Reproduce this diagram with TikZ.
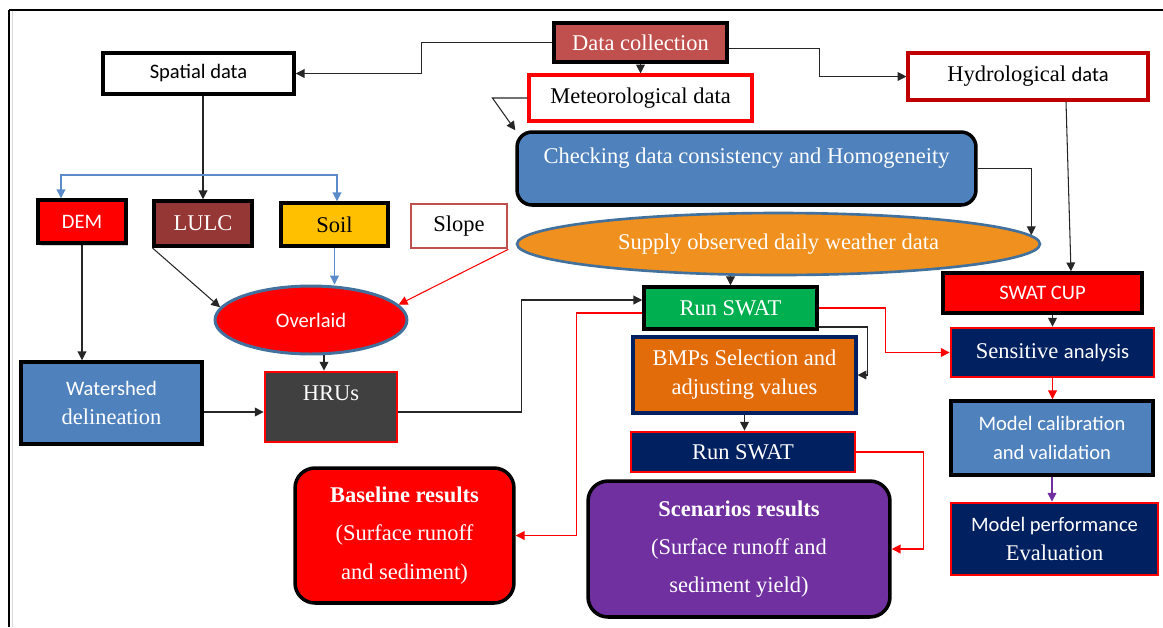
\documentclass[tikz,border=0pt]{standalone}
\usepackage{fontspec}
\setmainfont{Liberation Serif}
\newfontfamily\calibri{Carlito}
\usepackage{xcolor}
\usepackage{tikz}
\usetikzlibrary{arrows.meta,shapes.geometric,shadows}

\definecolor{brick}{HTML}{C0504D}
\definecolor{darkred}{HTML}{C00000}
\definecolor{steel}{HTML}{4F81BD}
\definecolor{amber}{HTML}{F0901E}
\definecolor{edgeblue}{HTML}{41719C}
\definecolor{maroon}{HTML}{953735}
\definecolor{gold}{HTML}{FFC000}
\definecolor{hrugray}{HTML}{404040}
\definecolor{swatgreen}{HTML}{00B050}
\definecolor{rust}{HTML}{E36C0A}
\definecolor{navy}{HTML}{002060}
\definecolor{plum}{HTML}{7030A0}
\definecolor{linkblue}{HTML}{5B8BC9}

\newcommand{\cf}{\calibri\fontsize{11.7}{16.4}\selectfont}

\begin{document}
\begin{tikzpicture}[x=0.02cm,y=-0.02cm,
  every node/.style={font=\fontsize{12.8}{16.4}\selectfont, inner sep=0pt, align=center},
  box/.style={rectangle, draw=black, line width=2pt},
  redbox/.style={rectangle, draw=red, line width=1.6pt},
  oval/.style={ellipse, draw=edgeblue, line width=1.5pt},
  conn/.style={draw=black!85, line width=0.6pt, -{Triangle[length=5pt,width=5pt]}},
  redconn/.style={conn, draw=red},
  blueconn/.style={conn, draw=linkblue},
  purpleconn/.style={conn, draw=plum}]
\useasboundingbox (0,0) rectangle (1163,627);
% frame
\draw[line width=0.7pt] (9,10) -- (1163,10);
\draw[line width=1.2pt] (9,10) -- (9,627);
\draw[black!15, line width=1pt] (12.5,11) -- (12.5,627);

% top row
\node[box, fill=brick, text=white, minimum width=3.46cm, minimum height=0.78cm] (datacol) at (640.5,42.5) {Data collection};
\node[box, fill=white, minimum width=3.82cm, minimum height=0.82cm] (spatial) at (198.5,73.5) {\cf Spatial data};
\node[redbox, line width=1.8pt, fill=white, minimum width=4.46cm, minimum height=0.92cm] (meteo) at (640.5,98) {Meteorological data};
\node[rectangle, draw=darkred, line width=1.8pt, fill=white, minimum width=4.8cm, minimum height=0.94cm] (hydro) at (1028,76.5) {Hydrological {\cf data}};

% weather branch
\node[box, rounded corners=0.3cm, fill=steel, text=white, minimum width=9.18cm, minimum height=1.46cm, text depth=15pt] (check) at (746.5,168.5) {Checking data consistency and Homogeneity};
\node[oval, fill=amber, text=white, minimum width=10.46cm, minimum height=1.24cm] (supply) at (778.5,244) {Supply observed daily weather data};

% spatial inputs
\node[box, fill=red, text=white, minimum width=1.76cm, minimum height=0.86cm, drop shadow={shadow xshift=0.05cm, shadow yshift=-0.05cm, opacity=0.35}] (dem) at (82,221.5) {\cf DEM};
\node[box, fill=maroon, text=white, minimum width=1.96cm, minimum height=0.9cm] (lulc) at (203,223.5) {LULC};
\node[box, fill=gold, minimum width=2.14cm, minimum height=0.86cm] (soil) at (334.5,224.5) {Soil};
\node[rectangle, draw=brick, line width=1.5pt, fill=white, minimum width=1.92cm, minimum height=0.88cm] (slope) at (459,226) {Slope};
\node[oval, line width=1.7pt, fill=red, text=white, minimum width=3.84cm, minimum height=1.36cm] (overlaid) at (311,320) {\cf Overlaid};
\node[box, fill=steel, text=white, minimum width=3.62cm, minimum height=1.64cm] (watershed) at (111.5,403) {\cf Watershed\\delineation};
\node[redbox, fill=hrugray, text=white, minimum width=2.64cm, minimum height=1.4cm, text depth=15.5pt] (hrus) at (331,407) {HRUs};

% model runs
\node[box, fill=swatgreen, text=white, minimum width=3.46cm, minimum height=0.84cm] (runA) at (730.5,308) {Run SWAT};
\node[rectangle, draw=navy, line width=1.8pt, fill=rust, text=white, minimum width=4.46cm, minimum height=1.52cm] (bmps) at (744.5,375) {BMPs Selection and\\adjusting values};
\node[redbox, fill=navy, text=white, minimum width=4.48cm, minimum height=0.8cm] (runB) at (743,452) {Run SWAT};
\node[box, rounded corners=0.4cm, fill=red, text=white, minimum width=4.38cm, minimum height=2.7cm, font=\fontsize{12.8}{21.8}\selectfont] (baseline) at (404.5,535.5) {\textbf{Baseline results}\\(Surface runoff\\and sediment)};
\node[box, rounded corners=0.4cm, fill=plum, text=white, minimum width=6.04cm, minimum height=2.72cm, font=\fontsize{12.8}{21.8}\selectfont] (scen) at (739,549) {\textbf{Scenarios results}\\(Surface runoff and\\sediment yield)};

% calibration column
\node[box, fill=red, text=white, minimum width=3.98cm, minimum height=0.8cm] (swatcup) at (1042.5,293) {\cf SWAT CUP};
\node[redbox, fill=navy, text=white, minimum width=4.06cm, minimum height=0.98cm] (sens) at (1052.5,352.5) {Sensitive {\cf analysis}};
\node[box, fill=steel, text=white, minimum width=4.04cm, minimum height=1.48cm] (calib) at (1052,438) {\cf Model calibration\\\cf and validation};
\node[redbox, fill=navy, text=white, minimum width=4.14cm, minimum height=1.44cm] (perf) at (1054.5,539) {{\cf Model performance}\\Evaluation};

% connectors
\coordinate (fork) at (203,175);
\coordinate (w1) at ([yshift=-0.18cm]watershed.east);
\coordinate (o1) at ([xshift=0.26cm]overlaid.south);
\draw[conn] (datacol.west) -- ++(-131,0) |- (spatial.east);
\draw[conn] ([yshift=-0.12cm]datacol.east) -- ++(91,0) |- (hydro.west);
\draw[conn] (datacol) -- (meteo);
\draw[conn] (meteo.west) -- ++(-35,0) -- (check.north west);
\draw[conn] (check.east) -| (supply.2);
\draw[conn] ([xshift=0.76cm]hydro.south) -- ([xshift=0.57cm]swatcup.north);
\draw[conn] (spatial.south -| lulc.north) -- (lulc.north);
\draw[blueconn] (fork) -| ([xshift=-0.42cm]dem.north);
\draw[blueconn] (fork) -| ([xshift=0.05cm]soil.north);
\draw[conn] (lulc.south west) -- (overlaid.172);
\draw[blueconn] (soil.south) -- (soil.south |- overlaid.north);
\draw[redconn] (slope.south east) -- (overlaid.10);
\draw[conn] (dem.south) -- (dem.south |- watershed.north);
\draw[conn] (o1) -- (o1 |- hrus.north);
\draw[conn] (w1) -- (w1 -| hrus.west);
\draw[conn] ([yshift=-0.1cm]hrus.east) -- ++(123,0) |- ([yshift=0.16cm]runA.west);
\draw[conn] (runA.north |- supply.south) -- (runA.north);
\draw[conn] ([yshift=-0.38cm]runA.east) -- ++(49,0) |- (bmps.east);
\draw[redconn] (runA.east) -- ++(67,0) |- (sens.west);
\draw[redconn] ([yshift=-0.1cm]runA.west) -- ++(-66,0) |- (baseline.east);
\draw[conn] (bmps.south) -- (bmps.south |- runB.north);
\draw[redconn] (runB.east) -- ++(67,0) |- (scen.east);
\draw[conn] (sens.north |- swatcup.south) -- (sens.north);
\draw[redconn] (sens.south) -- (sens.south |- calib.north);
\draw[purpleconn] (calib.south) -- (calib.south |- perf.north);
\end{tikzpicture}
\end{document}
